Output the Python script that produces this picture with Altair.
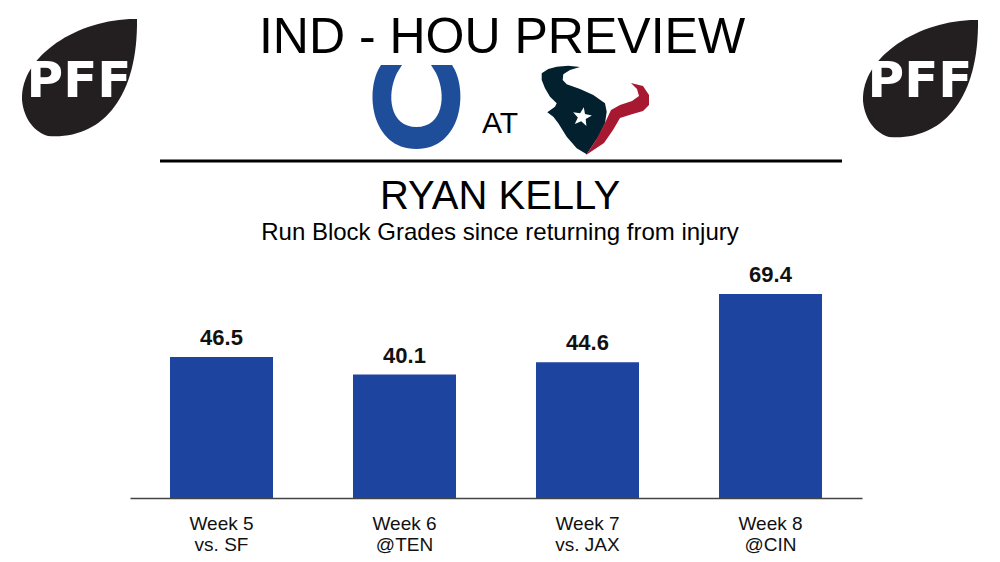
import math
import altair as alt
import pandas as pd

# ---- data ----
weeks = ["Week 5", "Week 6", "Week 7", "Week 8"]
opponents = ["vs. SF", "@TEN", "vs. JAX", "@CIN"]
grades = [46.5, 40.1, 44.6, 69.4]

title_text = "IND - HOU PREVIEW"
at_text = "AT"
player = "RYAN KELLY"
subtitle = "Run Block Grades since returning from injury"
logo_text = "PFF"

df = pd.DataFrame({
    "game": [w + "|" + o for w, o in zip(weeks, opponents)],
    "grade": grades,
})

OFF = 8  # page margin
Y_MIN = -4.76


def P(v):
    return v - OFF


R = 50.0


def shape(d, cx, cy):
    out = []
    i = 0
    for tok in d.split():
        if tok.isalpha():
            out.append(tok)
            i = 0
        else:
            v = float(tok)
            v = (v - (cx if i % 2 == 0 else cy)) / R
            out.append(f"{v:.3f}")
            i += 1
    return " ".join(out)


def poly(pts):
    return "M " + " L ".join(f"{x:.2f} {y:.2f}" for x, y in pts) + " Z"


one = pd.DataFrame({"k": [0]})


def logo(d, cx, cy, color):
    return alt.Chart(one).mark_point(
        shape=shape(d, cx, cy), size=4 * R * R, filled=True,
        color=color, opacity=1,
    ).encode(x=alt.value(P(cx)), y=alt.value(P(cy)))


def label(txt, x, y, size, weight="normal", color="black", font="Liberation Sans"):
    return alt.Chart(one).mark_text(
        text=txt, fontSize=size, font=font, fontWeight=weight,
        color=color, align="center", baseline="alphabetic",
    ).encode(x=alt.value(P(x)), y=alt.value(P(y)))


# decorative shapes (page pixel coordinates)
football = "M 137 19 C 80 18 20 55 22 100 C 24 120 35 132 48 136 C 100 140 138 100 137 19 Z"
football_r = "M 978 20 C 921 19 861 56 863 101 C 865 121 876 133 889 137 C 941 141 979 101 978 20 Z"
horseshoe = ("M 381 65 C 364 90 371 149 416.5 149 C 462 149 469 90 452 65 L 431 65 L 436 73 "
             "C 447 95 443 127 416.5 127 C 390 127 386 95 397 73 L 402 65 Z")
texans_navy = poly([
    (541.7, 73.3), (548.3, 69), (556.7, 66.7), (568.3, 65.7), (580, 67), (570, 70),
    (563.3, 74.3), (562.7, 80), (566.7, 84.3), (580, 89), (593.3, 95), (605, 103.3),
    (606.7, 111.7), (605, 123.3), (598.3, 136.7), (586.7, 154.3), (576.7, 148.3),
    (566.7, 136.7), (558.3, 123.3), (553.3, 116.7), (547.3, 112.3), (555, 106.7),
    (556.7, 103.3), (550, 96.7), (545, 88.3), (541.7, 80),
])
texans_red = poly([
    (586, 155), (595, 141.7), (604, 125), (611, 110), (620, 105), (632, 101),
    (639, 96), (637, 89), (631, 83), (643, 86), (649, 95), (649, 105),
    (643, 111), (631, 114.5), (620, 118), (613, 130), (604, 143),
])

# five-point star
SX, SY = 582, 117
star_pts = []
for k in range(10):
    rr = 10.0 if k % 2 == 0 else 4.2
    a = math.radians(-80 + 36 * k)
    star_pts.append((SX + rr * math.cos(a), SY + rr * math.sin(a)))
star = poly(star_pts)

layers = [
    logo(football, 80, 77, "#231f20"),
    logo(football_r, 921, 78, "#231f20"),
    label(logo_text, 79, 97, 50, "bold", "white", "DejaVu Sans"),
    label(logo_text, 920, 97, 50, "bold", "white", "DejaVu Sans"),
    logo(horseshoe, 416, 107, "#1e4d9a"),
    logo(texans_navy, 575, 110, "#03202f"),
    logo(texans_red, 620, 118, "#a71930"),
    logo(star, SX, SY, "white"),
    label(title_text, 502, 53, 50),
    label(at_text, 500, 133, 30),
    alt.Chart(one).mark_rule(color="black", strokeWidth=3)
    .encode(x=alt.value(P(160)), x2=alt.value(P(842)), y=alt.value(P(161))),
    label(player, 500, 209, 40),
    label(subtitle, 500, 240, 24),
]

x_enc = alt.X(
    "game:N", sort=None,
    scale=alt.Scale(range=[P(130), P(862)], paddingInner=0.437, paddingOuter=0.2185),
    axis=alt.Axis(
        title=None, labelExpr="split(datum.label, '|')", ticks=False,
        labelPadding=16, labelFontSize=19, labelFont="Liberation Sans",
        labelColor="#111", labelLineHeight=21, domainColor="#444", domainWidth=1.6,
        labelAngle=0, grid=False,
    ),
)
y_enc = alt.Y(
    "grade:Q",
    scale=alt.Scale(domain=[Y_MIN, 69.4], range=[490, 286], zero=False, nice=False),
    axis=None,
)

bars = alt.Chart(df).mark_bar(color="#1d45a0").encode(
    x=x_enc, y=y_enc, y2=alt.datum(Y_MIN)
)
vals = alt.Chart(df).mark_text(
    dy=-12, fontSize=22, fontWeight="bold", font="Liberation Sans",
    color="#111", baseline="alphabetic",
).encode(x=x_enc, y=y_enc, text=alt.Text("grade:Q", format=".1f"))

chart = alt.layer(*layers, bars, vals).properties(
    width=984, height=490,
    padding={"left": 0, "top": 0, "right": 0, "bottom": 56},
    autosize=alt.AutoSizeParams(type="none"),
    background="white",
).configure_view(stroke=None)

chart.save("out.html", embed_options={"renderer": "svg", "actions": False})
